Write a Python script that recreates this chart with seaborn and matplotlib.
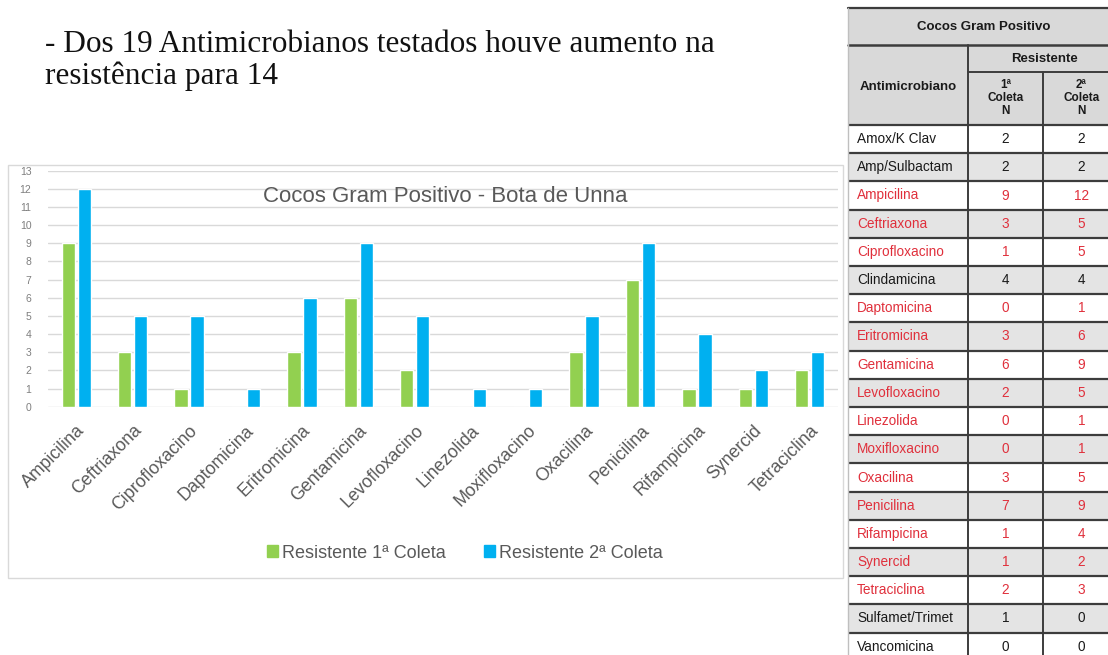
import numpy as np
import pandas as pd
import matplotlib
matplotlib.use("Agg")
import matplotlib.pyplot as plt
from matplotlib.patches import Rectangle
import seaborn as sns

# chart data
antimicrobianos = ["Ampicilina", "Ceftriaxona", "Ciprofloxacino", "Daptomicina",
                   "Eritromicina", "Gentamicina", "Levofloxacino", "Linezolida",
                   "Moxifloxacino", "Oxacilina", "Penicilina", "Rifampicina",
                   "Synercid", "Tetraciclina"]
coleta1 = [9, 3, 1, 0, 3, 6, 2, 0, 0, 3, 7, 1, 1, 2]
coleta2 = [12, 5, 5, 1, 6, 9, 5, 1, 1, 5, 9, 4, 2, 3]
series = ["Resistente 1ª Coleta", "Resistente 2ª Coleta"]
yticks = list(range(0, 14))

# table data
tab_nomes = ["Amox/K Clav", "Amp/Sulbactam", "Ampicilina", "Ceftriaxona",
             "Ciprofloxacino", "Clindamicina", "Daptomicina", "Eritromicina",
             "Gentamicina", "Levofloxacino", "Linezolida", "Moxifloxacino",
             "Oxacilina", "Penicilina", "Rifampicina", "Synercid",
             "Tetraciclina", "Sulfamet/Trimet", "Vancomicina"]
tab_c1 = [2, 2, 9, 3, 1, 4, 0, 3, 6, 2, 0, 0, 3, 7, 1, 1, 2, 1, 0]
tab_c2 = [2, 2, 12, 5, 5, 4, 1, 6, 9, 5, 1, 1, 5, 9, 4, 2, 3, 0, 0]

titulo_l1 = "- Dos 19 Antimicrobianos testados houve aumento na"
titulo_l2 = "resistência para 14"
titulo_graf = "Cocos Gram Positivo - Bota de Unna"

GREEN = "#92D050"
BLUE = "#00B0F0"
GRAY_TXT = "#595959"
RED = "#E0303C"

df = pd.DataFrame({
    "antimicrobiano": antimicrobianos * 2,
    "n": coleta1 + coleta2,
    "coleta": [series[0]] * len(coleta1) + [series[1]] * len(coleta2),
})

sns.set_theme(style="white")
plt.rcParams["font.family"] = ["Liberation Sans", "DejaVu Sans"]

W, H = 1108, 655
fig = plt.figure(figsize=(W / 100, H / 100), dpi=100)
fig.patch.set_facecolor("white")

# overlay in pixel coords for frame, texts and table
ov = fig.add_axes([0, 0, 1, 1], zorder=3)
ov.set_xlim(0, W)
ov.set_ylim(H, 0)
ov.axis("off")
ov.patch.set_alpha(0)

# chart frame
ov.add_patch(Rectangle((8, 165), 835, 413, fill=False, ec="#D9D9D9", lw=1))

# bar chart
y0, y13, xl, xr = 406.7, 170.7, 48, 838
ax = fig.add_axes([xl / W, (H - y0) / H, (xr - xl) / W, (y0 - y13) / H], zorder=2)
sns.barplot(data=df, x="antimicrobiano", y="n", hue="coleta",
            palette=[GREEN, BLUE], saturation=1, width=0.567, gap=0.17,
            ax=ax, legend=False)
ax.set_ylim(0, 13)
ax.set_xlim(-0.5, len(antimicrobianos) - 0.5)
ax.set_yticks(yticks)
ax.yaxis.grid(True, color="#D9D9D9", lw=1)
ax.set_axisbelow(True)
for s in ax.spines.values():
    s.set_visible(False)
ax.set_xlabel("")
ax.set_ylabel("")
ax.tick_params(axis="y", length=0, pad=12, labelsize=7.5, labelcolor="#7F7F7F")
ax.tick_params(axis="x", length=0, pad=11, labelsize=12.8, labelcolor=GRAY_TXT)
plt.setp(ax.get_xticklabels(), rotation=45, ha="right", rotation_mode="anchor")
ax.patch.set_alpha(0)

# legend
handles = [Rectangle((0, 0), 1, 1, color=c) for c in (GREEN, BLUE)]
ax.legend(handles, series, loc="center", bbox_to_anchor=(465 / W, 1 - 553 / H),
          bbox_transform=fig.transFigure, ncol=2, frameon=False,
          handlelength=0.6, handleheight=0.6, handletextpad=0.25,
          columnspacing=2.1, fontsize=13, labelcolor=GRAY_TXT)

ov.text(445, 197, titulo_graf, ha="center", va="center", fontsize=16, color=GRAY_TXT)

# slide heading
serif = ["Liberation Serif", "DejaVu Serif"]
ov.text(45, 52, titulo_l1, ha="left", va="baseline", fontsize=22.5,
        family=serif, color="#111111")
ov.text(45, 84, titulo_l2, ha="left", va="baseline", fontsize=22.5,
        family=serif, color="#111111")

# table
cx = [848, 968, 1043, 1120]
row_top, row_h = 125, 28.2
hdr_bg = "#D9D9D9"
line_c = "#3C3C3C"
ov.add_patch(Rectangle((cx[0], 8), cx[3] - cx[0], row_top - 8, fc=hdr_bg, ec="none"))
for i, (nome, a, b) in enumerate(zip(tab_nomes, tab_c1, tab_c2)):
    top = row_top + i * row_h
    bg = "white" if i % 2 == 0 else "#E4E4E4"
    ov.add_patch(Rectangle((cx[0], top), cx[3] - cx[0], row_h, fc=bg, ec="none"))
    cor = RED if b > a else "#1A1A1A"
    yc = top + row_h / 2
    ov.text(cx[0] + 9, yc, nome, ha="left", va="center", fontsize=9.8, color=cor)
    ov.text((cx[1] + cx[2]) / 2, yc, str(a), ha="center", va="center", fontsize=9.8, color=cor)
    ov.text((cx[2] + cx[3]) / 2, yc, str(b), ha="center", va="center", fontsize=9.8, color=cor)
    ov.plot([cx[0], cx[3]], [top, top], color=line_c, lw=1.6, solid_capstyle="butt")

bottom = row_top + len(tab_nomes) * row_h
ov.plot([cx[0], cx[3]], [8, 8], color=line_c, lw=1.6)
ov.plot([cx[0], cx[3]], [45, 45], color=line_c, lw=1.8)
ov.plot([cx[1], cx[3]], [72, 72], color=line_c, lw=1.4)
ov.plot([cx[1], cx[1]], [45, bottom], color=line_c, lw=1.4)
ov.plot([cx[2], cx[2]], [72, bottom], color=line_c, lw=1.4)
ov.plot([cx[0], cx[0]], [8, bottom], color="#BFBFBF", lw=1)

ov.text((cx[0] + cx[3]) / 2, 27, "Cocos Gram Positivo", ha="center", va="center",
        fontsize=9.5, fontweight="bold", color="#1A1A1A")
ov.text((cx[1] + cx[3]) / 2, 59, "Resistente", ha="center", va="center",
        fontsize=9.5, fontweight="bold", color="#1A1A1A")
ov.text((cx[0] + cx[1]) / 2, 87, "Antimicrobiano", ha="center", va="center",
        fontsize=9.5, fontweight="bold", color="#1A1A1A")
ov.text((cx[1] + cx[2]) / 2, 98, "1ª\nColeta\nN", ha="center", va="center",
        fontsize=8.5, fontweight="bold", color="#1A1A1A", linespacing=1.1)
ov.text((cx[2] + cx[3]) / 2, 98, "2ª\nColeta\nN", ha="center", va="center",
        fontsize=8.5, fontweight="bold", color="#1A1A1A", linespacing=1.1)

fig.savefig("out.png", dpi=100)
